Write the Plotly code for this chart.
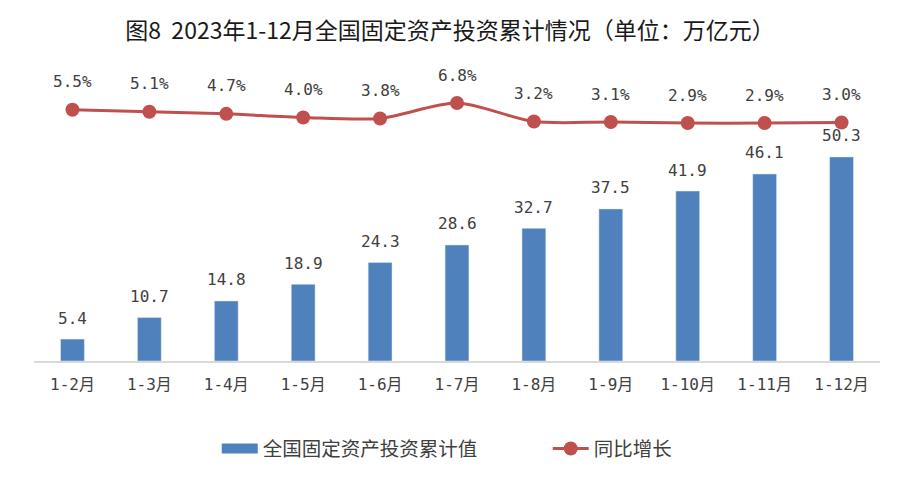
import plotly.graph_objects as go

categories = ["1-2月", "1-3月", "1-4月", "1-5月", "1-6月", "1-7月", "1-8月", "1-9月", "1-10月", "1-11月", "1-12月"]
cum_values = [5.4, 10.7, 14.8, 18.9, 24.3, 28.6, 32.7, 37.5, 41.9, 46.1, 50.3]
growth = [5.5, 5.1, 4.7, 4.0, 3.8, 6.8, 3.2, 3.1, 2.9, 2.9, 3.0]

CJK = "Noto Sans CJK SC"
MONO = "DejaVu Sans Mono, Noto Sans CJK SC"
TXT = "#404040"
BLUE = "#4F81BD"
RED = "#C0504D"

fig = go.Figure()
fig.add_trace(go.Bar(
    x=categories, y=cum_values, name="全国固定资产投资累计值",
    marker_color=BLUE, width=0.31, yaxis="y", showlegend=False,
))
# legend proxy for the bar series (wide swatch like the reference)
fig.add_trace(go.Scatter(
    x=[None], y=[None], name="全国固定资产投资累计值", mode="lines",
    line=dict(color=BLUE, width=12), showlegend=True,
))
fig.add_trace(go.Scatter(
    x=categories, y=growth, name="同比增长", yaxis="y2",
    mode="lines+markers", line=dict(color=RED, width=3, shape="spline", smoothing=0.8),
    marker=dict(color=RED, size=14),
))

annotations = []
for c, v in zip(categories, cum_values):
    annotations.append(dict(x=c, y=v, xref="x", yref="y", text=f"{v:.1f}", showarrow=False,
                            yshift=21, font=dict(family=MONO, size=16, color=TXT)))
for c, v in zip(categories, growth):
    annotations.append(dict(x=c, y=v, xref="x", yref="y2", text=f"{v:.1f}%", showarrow=False,
                            yshift=28, font=dict(family=MONO, size=16, color=TXT)))

fig.update_layout(
    width=900, height=484,
    margin=dict(l=34, r=20, t=60, b=123),
    paper_bgcolor="white", plot_bgcolor="white",
    title=dict(text="图8  2023年1-12月全国固定资产投资累计情况（单位：万亿元）",
               x=0.5, xanchor="center", y=1 - 31 / 484, yanchor="middle",
               font=dict(family=CJK, size=23, color="#1a1a1a")),
    font=dict(family=CJK, size=16, color=TXT),
    xaxis=dict(type="category", range=[-0.5, 10.5], showline=True, linecolor="#d9d9d9",
               linewidth=1.5, ticks="", showgrid=False,
               tickfont=dict(family=MONO, size=16, color=TXT), ticklabelstandoff=8),
    yaxis=dict(range=[0, 74.2], visible=False, showgrid=False),
    yaxis2=dict(range=[-43.5, 15.2], overlaying="y", visible=False, showgrid=False),
    showlegend=True,
    legend=dict(orientation="h", x=0.216, xanchor="left", y=-0.292, yanchor="middle",
                font=dict(family=CJK, size=19.5, color=TXT), itemwidth=36,
                entrywidth=280),
    annotations=annotations,
)

fig.write_html("out.html", config={"displayModeBar": False},
               post_script="document.body.style.margin='0';document.body.style.padding='0';")
